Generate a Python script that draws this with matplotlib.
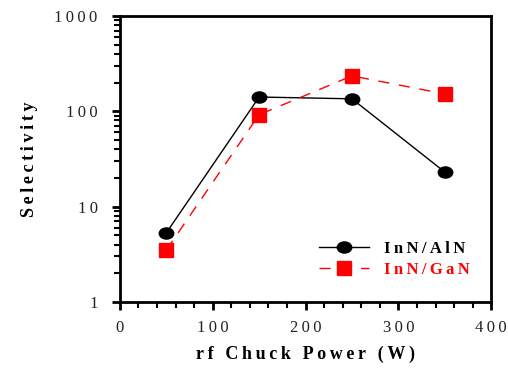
import matplotlib
matplotlib.use("Agg")
import matplotlib.pyplot as plt
from matplotlib.markers import MarkerStyle
from matplotlib.transforms import Affine2D
from matplotlib.ticker import LogLocator, MultipleLocator, NullFormatter, FixedLocator

# ----------------------------
# Data
# ----------------------------

power = [50, 150, 250, 350]
sel_aln = [5.3, 141, 135, 23]
sel_gan = [3.5, 92, 235, 152]

x_ticks = [0, 100, 200, 300, 400]
y_ticks = [1, 10, 100, 1000]


def spaced(s):
    return "\u2009".join(s)


# ----------------------------
# Plot
# ----------------------------

plt.rcParams["font.family"] = ["Liberation Serif", "DejaVu Serif"]

fig = plt.figure(figsize=(5.08, 3.70), dpi=100)
ax = fig.add_axes([0.236, 0.184, 0.731, 0.773])

oval = MarkerStyle("o", transform=Affine2D().scale(1.3, 1.0))
ax.plot(power, sel_aln, color="black", lw=1.0, marker=oval,
        markersize=8, label=spaced("InN/AlN"))
ax.plot(power, sel_gan, color="red", lw=1.0, ls=(0, (8, 7)), marker="s",
        markersize=10, label=spaced("InN/GaN"))

ax.set_yscale("log")
ax.set_xlim(0, 400)
ax.set_ylim(1, 1000)

ax.xaxis.set_major_locator(FixedLocator(x_ticks))
ax.xaxis.set_minor_locator(MultipleLocator(20))
ax.yaxis.set_major_locator(FixedLocator(y_ticks))
ax.yaxis.set_minor_locator(LogLocator(base=10, subs=range(2, 10)))
ax.yaxis.set_minor_formatter(NullFormatter())
ax.set_xticklabels([spaced(str(t)) for t in x_ticks])
ax.set_yticklabels([spaced(str(t)) for t in y_ticks])

for s in ax.spines.values():
    s.set_linewidth(2)
ax.tick_params(which="major", direction="out", length=6, width=2,
               labelsize=12, labelcolor="#222222")
ax.tick_params(axis="y", which="major", pad=10)
ax.tick_params(axis="x", which="major", pad=7)
ax.tick_params(which="minor", direction="out", length=4, width=1.5)

ax.set_xlabel(spaced("rf Chuck Power (W)"), fontsize=13, fontweight="bold",
              labelpad=7)
ax.set_ylabel(spaced("Selectivity"), fontsize=13, fontweight="bold",
              labelpad=12)

leg = ax.legend(loc="center left", frameon=False,
                prop={"weight": "bold", "size": 12},
                bbox_to_anchor=(0.536, 0.15), borderpad=0, borderaxespad=0,
                handlelength=3.0, handletextpad=0.9, labelspacing=0.3)
for txt, c in zip(leg.get_texts(), ["black", "red"]):
    txt.set_color(c)

fig.savefig("out.png", dpi=100)
